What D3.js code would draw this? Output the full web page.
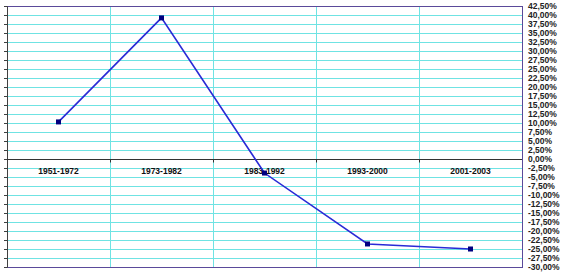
<!DOCTYPE html>
<html>
<head>
<meta charset="utf-8">
<script src="https://cdn.jsdelivr.net/npm/d3@7"></script>
<style>
  body { margin: 0; background: #fff; }
  text { font-family: "Liberation Sans", Arial, sans-serif; font-weight: bold; }
</style>
</head>
<body>
<svg id="chart" width="569" height="276"></svg>
<script>
const categories = ["1951-1972", "1973-1982", "1983-1992", "1993-2000", "2001-2003"];
const values = [10.3, 39.2, -3.9, -23.6, -25.0];
const yTicks = d3.range(-30, 42.51, 2.5);

const margin = { top: 6, right: 47, bottom: 9, left: 7 };
const width = 569 - margin.left - margin.right;
const height = 276 - margin.top - margin.bottom;

const svg = d3.select("#chart");
const g = svg.append("g").attr("transform", `translate(${margin.left},${margin.top})`);

const x = d3.scaleBand().domain(categories).range([0, width]);
const y = d3.scaleLinear().domain([-30, 42.5]).range([height, 0]);

// horizontal gridlines
g.selectAll(".hgrid")
  .data(yTicks)
  .enter()
  .append("line")
  .attr("x1", 0)
  .attr("x2", width)
  .attr("y1", (d) => Math.round(y(d)) + 0.5)
  .attr("y2", (d) => Math.round(y(d)) + 0.5)
  .attr("stroke", "#6fe3e3")
  .attr("stroke-width", 1);

// vertical gridlines at category boundaries
g.selectAll(".vgrid")
  .data(categories.slice(1))
  .enter()
  .append("line")
  .attr("x1", (d) => Math.round(x(d)) + 0.5)
  .attr("x2", (d) => Math.round(x(d)) + 0.5)
  .attr("y1", 0)
  .attr("y2", height)
  .attr("stroke", "#6fe3e3")
  .attr("stroke-width", 1);

// plot border
g.append("rect")
  .attr("x", 0.5)
  .attr("y", 0.5)
  .attr("width", width)
  .attr("height", height)
  .attr("fill", "none")
  .attr("stroke", "#5a4a9a")
  .attr("stroke-width", 1);

// value axis ticks on the left
g.append("g")
  .call(d3.axisLeft(y).tickValues(yTicks).tickSize(3).tickFormat(""))
  .call((a) => a.select(".domain").attr("stroke", "#404040"))
  .call((a) => a.selectAll(".tick line").attr("stroke", "#404040"));

// value labels on the right
const fmt = (d) => d.toFixed(2).replace(".", ",") + "%";
g.append("g")
  .attr("transform", `translate(${width + 6},0)`)
  .selectAll("text")
  .data(yTicks)
  .enter()
  .append("text")
  .attr("x", 0)
  .attr("y", (d) => y(d))
  .attr("dy", "0.35em")
  .attr("font-size", 8.5)
  .attr("fill", "#222")
  .text(fmt);

// zero line with category ticks
const zero = Math.round(y(0)) + 0.5;
g.append("line")
  .attr("x1", 0)
  .attr("x2", width)
  .attr("y1", zero)
  .attr("y2", zero)
  .attr("stroke", "#333")
  .attr("stroke-width", 1);

g.selectAll(".ctick")
  .data(categories.slice(1))
  .enter()
  .append("line")
  .attr("x1", (d) => Math.round(x(d)) + 0.5)
  .attr("x2", (d) => Math.round(x(d)) + 0.5)
  .attr("y1", zero)
  .attr("y2", zero + 3)
  .attr("stroke", "#333");

// category labels
g.selectAll(".clabel")
  .data(categories)
  .enter()
  .append("text")
  .attr("x", (d) => x(d) + x.bandwidth() / 2)
  .attr("y", zero + 14)
  .attr("text-anchor", "middle")
  .attr("font-size", 8.5)
  .attr("fill", "#111")
  .text((d) => d);

// series line
const line = d3
  .line()
  .x((d, i) => x(categories[i]) + x.bandwidth() / 2)
  .y((d) => y(d));

g.append("path")
  .datum(values)
  .attr("fill", "none")
  .attr("stroke", "#2a2ad6")
  .attr("stroke-width", 1.6)
  .attr("d", line);

g.selectAll(".marker")
  .data(values)
  .enter()
  .append("rect")
  .attr("x", (d, i) => x(categories[i]) + x.bandwidth() / 2 - 2.5)
  .attr("y", (d) => y(d) - 2.5)
  .attr("width", 5)
  .attr("height", 5)
  .attr("fill", "#000080");
</script>
</body>
</html>
